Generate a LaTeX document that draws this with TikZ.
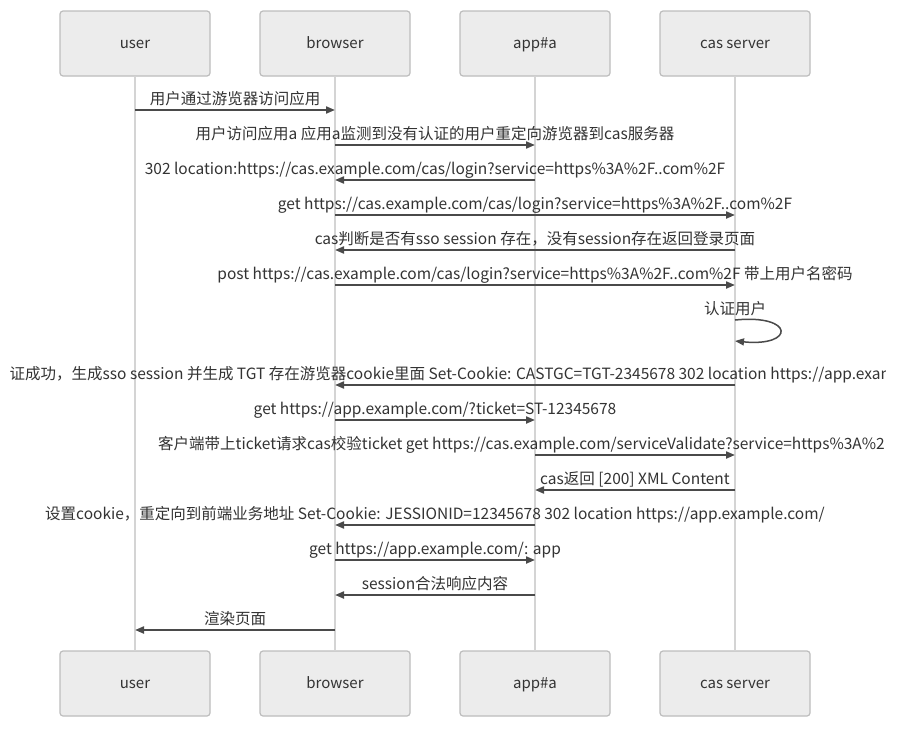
\documentclass[tikz,border=0pt]{standalone}
\usepackage{fontspec}
\setmainfont{Noto Sans CJK SC}
\usetikzlibrary{arrows.meta}
\definecolor{boxfill}{HTML}{ECECEC}
\definecolor{boxdraw}{HTML}{BDBDBD}
\definecolor{lifeln}{HTML}{D4D4D4}
\definecolor{msgcol}{HTML}{4A4A4A}
\definecolor{txtcol}{HTML}{333333}
\tikzset{
  actor/.style={draw=boxdraw, fill=boxfill, line width=1.2pt, rounded corners=3pt,
    minimum width=150pt, minimum height=65pt, inner sep=0pt,
    text height=10pt, text depth=0pt,
    font=\fontsize{15}{18}\selectfont, text=txtcol},
  lifeline/.style={draw=lifeln, line width=1.5pt},
  msg/.style={draw=msgcol, line width=2pt, -{Triangle[length=9pt,width=7pt]}},
  selfmsg/.style={draw=msgcol, line width=1.5pt, -{Triangle[length=9pt,width=7pt]}},
  lbl/.style={inner sep=0pt, text=txtcol, text height=12pt, text depth=0pt,
    font=\fontsize{15.5}{18}\selectfont}
}
\begin{document}
\begin{tikzpicture}[x=1pt,y=-1pt]
\useasboundingbox[fill=white] (0,0) rectangle (910,728);
% participants
\node[actor] (ut) at (135,43.5) {user};
\node[actor] (bt) at (335,43.5) {browser};
\node[actor] (at) at (535,43.5) {app\#a};
\node[actor] (ct) at (735,43.5) {cas server};
\node[actor] (ub) at (135,683.5) {user};
\node[actor] (bb) at (335,683.5) {browser};
\node[actor] (ab) at (535,683.5) {app\#a};
\node[actor] (cb) at (735,683.5) {cas server};
% lifelines
\draw[lifeline] (ut.south) -- (ub.north);
\draw[lifeline] (bt.south) -- (bb.north);
\draw[lifeline] (at.south) -- (ab.north);
\draw[lifeline] (ct.south) -- (cb.north);
% messages
\draw[msg] (ut |- 0,110) -- (bt |- 0,110);
\draw[msg] (bt |- 0,145) -- (at |- 0,145);
\draw[msg] (at |- 0,180) -- (bt |- 0,180);
\draw[msg] (bt |- 0,215) -- (ct |- 0,215);
\draw[msg] (ct |- 0,250) -- (bt |- 0,250);
\draw[msg] (bt |- 0,285) -- (ct |- 0,285);
\draw[selfmsg] (ct |- 0,320) .. controls (795,314) and (795,347) .. (ct |- 0,341);
\draw[msg] (ct |- 0,385) -- (bt |- 0,385);
\draw[msg] (bt |- 0,420) -- (at |- 0,420);
\draw[msg] (at |- 0,455) -- (ct |- 0,455);
\draw[msg] (ct |- 0,490) -- (at |- 0,490);
\draw[msg] (at |- 0,525) -- (bt |- 0,525);
\draw[msg] (bt |- 0,560) -- (at |- 0,560);
\draw[msg] (at |- 0,595) -- (bt |- 0,595);
\draw[msg] (bt |- 0,630) -- (ut |- 0,630);
% labels
\begin{scope}
\clip (10,0) rectangle (885,728);
\node[lbl] (l1) at (235,98) {用户通过游览器访问应用};
\node[lbl] (l2) at (435,133) {用户访问应用a 应用a监测到没有认证的用户重定向游览器到cas服务器};
\node[lbl] (l3) at (435,168) {302 location:https://cas.example.com/cas/login?service=https\%3A\%2F..com\%2F};
\node[lbl] (l4) at (535,203) {get https://cas.example.com/cas/login?service=https\%3A\%2F..com\%2F};
\node[lbl] (l5) at (535,238) {cas判断是否有sso session 存在，没有session存在返回登录页面};
\node[lbl] (l6) at (535,273) {post https://cas.example.com/cas/login?service=https\%3A\%2F..com\%2F 带上用户名密码};
\node[lbl] (l7) at (735,308) {认证用户};
\node[lbl, anchor=west] (l8) at (-6,373) {认证成功，生成sso session 并生成 TGT 存在游览器cookie里面 Set-Cookie: CASTGC=TGT-2345678 302 location https://app.example.com/?ticket=ST-12345678};
\node[lbl] (l9) at (435,408) {get https://app.example.com/?ticket=ST-12345678};
\node[lbl, anchor=west] (l10) at (158,443) {客户端带上ticket请求cas校验ticket get https://cas.example.com/serviceValidate?service=https\%3A\%2F\%2Fapp.example.com\%2F\&ticket=ST-12345678};
\node[lbl] (l11) at (635,478) {cas返回 [200] XML Content};
\node[lbl] (l12) at (435,513) {设置cookie，重定向到前端业务地址 Set-Cookie: JESSIONID=12345678 302 location https://app.example.com/};
\node[lbl] (l13) at (435,548) {get https://app.example.com/: app};
\node[lbl] (l14) at (435,583) {session合法响应内容};
\node[lbl] (l15) at (235,618) {渲染页面};
\end{scope}
\end{tikzpicture}
\end{document}
